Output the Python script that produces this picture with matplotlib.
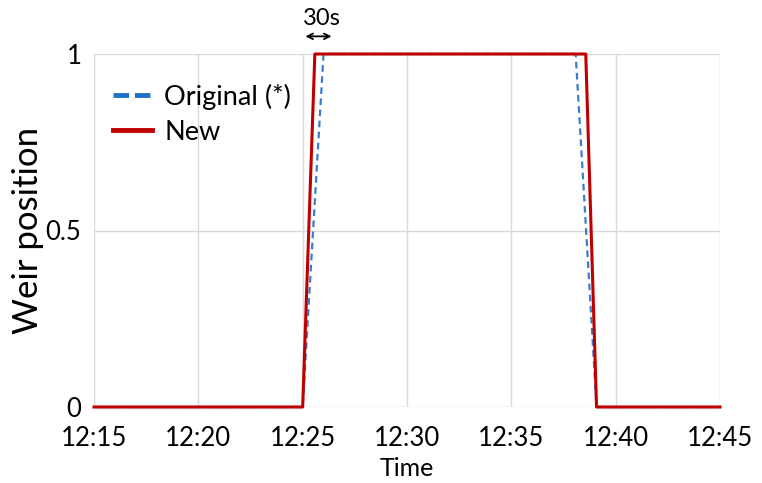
import matplotlib
matplotlib.use("Agg")
import matplotlib.pyplot as plt
from matplotlib.lines import Line2D
import pandas as pd

plt.rcParams['font.family'] = ['Lato', 'DejaVu Sans']

day = "2020-01-01 "
orig_times = ["12:15:00", "12:25:00", "12:26:00", "12:38:05", "12:39:05", "12:45:00"]
orig_vals = [0, 0, 1, 1, 0, 0]
new_times = ["12:15:00", "12:25:00", "12:25:35", "12:38:34", "12:39:05", "12:45:00"]
new_vals = [0, 0, 1, 1, 0, 0]
tick_labels = ["12:15", "12:20", "12:25", "12:30", "12:35", "12:40", "12:45"]
y_ticks = [0, 0.5, 1]
y_tick_labels = ["0", "0.5", "1"]

to_dt = lambda ts: pd.to_datetime([day + t for t in ts])
ot = to_dt(orig_times)
nt = to_dt(new_times)
ticks = to_dt([t + ":00" for t in tick_labels])

fig = plt.figure(figsize=(7.62, 4.83), dpi=100)
ax = fig.add_axes([94/762, 1-407/483, (720-94)/762, (407-54)/483])

blue = "#3b7dcc"
red = "#c00000"
ax.plot(ot, orig_vals, color=blue, lw=1.6, ls=(0, (3, 2)), clip_on=False, zorder=3)
ax.plot(nt, new_vals, color=red, lw=2.2, clip_on=False, zorder=4)

ax.set_xlim(ticks[0], ticks[-1])
ax.set_ylim(0, 1)
ax.set_xticks(ticks)
ax.set_xticklabels(tick_labels)
ax.set_yticks(y_ticks)
ax.set_yticklabels(y_tick_labels)
ax.grid(True, color="#d9d9d9", lw=1)
ax.set_axisbelow(True)
for s in ax.spines.values():
    s.set_visible(False)
ax.tick_params(length=0, labelsize=18.5)
ax.tick_params(axis='x', pad=14)
ax.tick_params(axis='y', pad=9)
ax.set_xlabel("Time", fontsize=18, labelpad=4)
ax.set_ylabel("Weir position", fontsize=25)
ax.yaxis.set_label_coords(-0.08, 0.5)

handles = [Line2D([], [], color="#1f73c6", lw=3.5, ls=(0, (3.2, 1.2))),
           Line2D([], [], color=red, lw=3.5)]
ax.legend(handles, ["Original (*)", "New"], loc="upper left", fontsize=19.5,
          frameon=False, handlelength=1.45, handletextpad=0.45,
          bbox_to_anchor=(0.0, 0.97), labelspacing=0.38, borderaxespad=0.3)

a0 = pd.Timestamp(day + "12:25:08")
a1 = pd.Timestamp(day + "12:26:23")
ax.annotate("", xy=(a0, 1.05), xytext=(a1, 1.05),
            xycoords=('data', 'axes fraction'), textcoords=('data', 'axes fraction'),
            arrowprops=dict(arrowstyle="<->", color="black", lw=1.3,
                            shrinkA=0, shrinkB=0, mutation_scale=10),
            annotation_clip=False)
ax.text(pd.Timestamp(day + "12:25:55"), 1.072, "30s", fontsize=17,
        ha="center", va="bottom", transform=ax.get_xaxis_transform())

fig.savefig("out.png", dpi=100)
